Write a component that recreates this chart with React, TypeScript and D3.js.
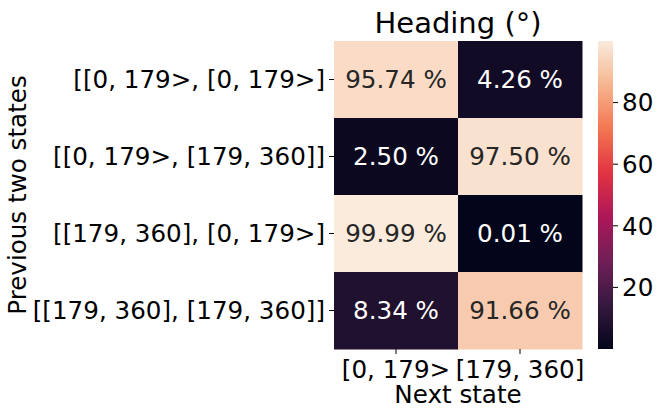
import React from "react";
import * as d3 from "d3";

const rowLabels = ["[[0, 179>, [0, 179>]", "[[0, 179>, [179, 360]]", "[[179, 360], [0, 179>]", "[[179, 360], [179, 360]]"];
const colLabels = ["[0, 179>", "[179, 360]"];
const values: number[][] = [
  [95.74, 4.26],
  [2.5, 97.5],
  [99.99, 0.01],
  [8.34, 91.66],
];
const cbTicks = [20, 40, 60, 80];
const rocketStops = ["#03051a", "#35193e", "#701f57", "#ad1759", "#e13342", "#f37651", "#f6b48f", "#faebdd"];
const rocketPos = [0, 1 / 7, 2 / 7, 3 / 7, 4 / 7, 5 / 7, 6 / 7, 1];

const W = 660, H = 417;
const left = 334, right = 582, top = 41, bottom = 349;
const cbX = 598, cbW = 15;
const FS = 24.6;
const font = "DejaVu Sans, sans-serif";

export default function App() {
  const vmin = d3.min(values.flat())!;
  const vmax = d3.max(values.flat())!;
  const x = d3.scaleBand<string>().domain(colLabels).range([left, right]);
  const y = d3.scaleBand<string>().domain(rowLabels).range([top, bottom]);
  const tScale = d3.scaleLinear().domain([vmin, vmax]).range([0, 1]);
  const interp = d3.scaleLinear<string>().domain(rocketPos).range(rocketStops).interpolate(d3.interpolateRgb);
  const color = (v: number) => interp(tScale(v));
  const cbY = d3.scaleLinear().domain([vmin, vmax]).range([bottom, top]);
  const lum = (c: string) => {
    const r = d3.rgb(c);
    const f = (u: number) => { u /= 255; return u <= 0.03928 ? u / 12.92 : Math.pow((u + 0.055) / 1.055, 2.4); };
    return 0.2126 * f(r.r) + 0.7152 * f(r.g) + 0.0722 * f(r.b);
  };
  const gradStops = d3.range(0, 1.0001, 0.02);
  return (
    <svg width={W} height={H} style={{ position: "absolute", left: 0, top: 0, background: "#fff" }} fontFamily={font}>
      <defs>
        <linearGradient id="cb" x1="0" y1="1" x2="0" y2="0">
          {gradStops.map((t, i) => (
            <stop key={i} offset={t} stopColor={interp(t)} />
          ))}
        </linearGradient>
      </defs>
      <rect x={0} y={0} width={W} height={H} fill="#fff" />
      {values.map((row, i) =>
        row.map((v, j) => {
          const c = color(v);
          const cx = x(colLabels[j])! + x.bandwidth() / 2;
          const cy = y(rowLabels[i])! + y.bandwidth() / 2;
          return (
            <g key={`${i}-${j}`}>
              <rect x={x(colLabels[j])!} y={y(rowLabels[i])!} width={x.bandwidth() + 0.5} height={y.bandwidth() + 0.5} fill={c} />
              <text x={cx} y={cy + FS * 0.36} textAnchor="middle" fontSize={FS} fill={lum(c) > 0.408 ? "#262626" : "#ffffff"}>
                {v.toFixed(2)} %
              </text>
            </g>
          );
        })
      )}
      {rowLabels.map((r) => {
        const cy = y(r)! + y.bandwidth() / 2;
        return (
          <g key={r}>
            <line x1={left - 5} x2={left} y1={cy} y2={cy} stroke="#000" strokeWidth={1} />
            <text x={left - 9} y={cy + FS * 0.36} textAnchor="end" fontSize={FS} fill="#000">{r}</text>
          </g>
        );
      })}
      {colLabels.map((c) => {
        const cx = x(c)! + x.bandwidth() / 2;
        return (
          <g key={c}>
            <line x1={cx} x2={cx} y1={bottom} y2={bottom + 5} stroke="#000" strokeWidth={1} />
            <text x={cx} y={378} textAnchor="middle" fontSize={FS} fill="#000">{c}</text>
          </g>
        );
      })}
      <text x={(left + right) / 2} y={403} textAnchor="middle" fontSize={FS} fill="#000">Next state</text>
      <text transform={`translate(26,${(top + bottom) / 2}) rotate(-90)`} textAnchor="middle" fontSize={FS} fill="#000">Previous two states</text>
      <text x={(left + right) / 2} y={33} textAnchor="middle" fontSize={29} fill="#000">Heading (°)</text>
      <rect x={cbX} y={top} width={cbW} height={bottom - top} fill="url(#cb)" />
      {cbTicks.map((t) => (
        <g key={t}>
          <line x1={cbX + cbW} x2={cbX + cbW + 5} y1={cbY(t)} y2={cbY(t)} stroke="#000" strokeWidth={1} />
          <text x={cbX + cbW + 9} y={cbY(t) + FS * 0.36} fontSize={FS} fill="#000">{t}</text>
        </g>
      ))}
    </svg>
  );
}
